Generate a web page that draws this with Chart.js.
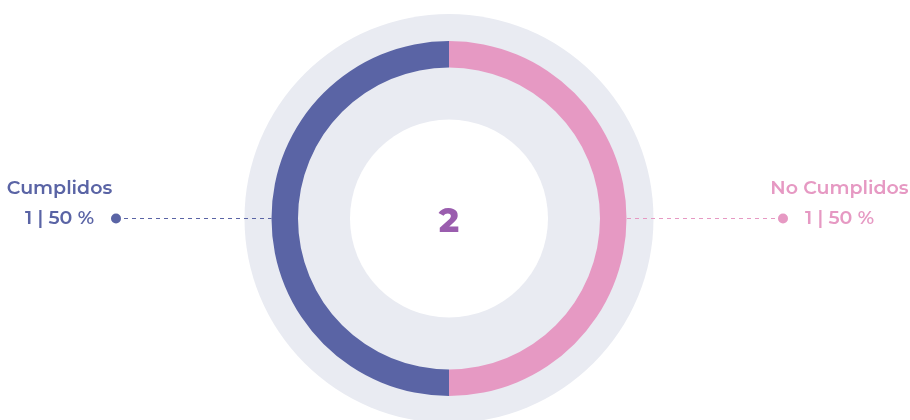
<!DOCTYPE html>
<html>
<head>
<meta charset="utf-8">
<script src="https://cdn.jsdelivr.net/npm/chart.js@4"></script>
<style>
html,body{margin:0;padding:0;background:#fff;}
#wrap{width:910px;height:420px;position:relative;}
</style>
</head>
<body>
<div id="wrap"><canvas id="c" width="910" height="420"></canvas></div>
<script>
const categories = ['Cumplidos', 'No Cumplidos'];
const values = [1, 1];
const sliceColors = ['#5A64A5', '#E699C3'];
const trackColor = '#E9EBF2';
const centerColor = '#9A5DAE';
const FONT = '"Montserrat","Open Sans","Noto Sans",sans-serif';

const total = values.reduce((a, b) => a + b, 0);

const decor = {
  id: 'decor',
  beforeDatasetsDraw(chart) {
    const meta = chart.getDatasetMeta(0);
    const arc = meta.data[0];
    const ctx = chart.ctx;
    const cx = arc.x, cy = arc.y;
    ctx.save();
    ctx.fillStyle = trackColor;
    ctx.beginPath();
    ctx.arc(cx, cy, arc.outerRadius + 27, 0, Math.PI * 2);
    ctx.fill();
    ctx.fillStyle = '#ffffff';
    ctx.beginPath();
    ctx.arc(cx, cy, arc.innerRadius - 52, 0, Math.PI * 2);
    ctx.fill();
    ctx.restore();
  },
  afterDatasetsDraw(chart) {
    const meta = chart.getDatasetMeta(0);
    const ctx = chart.ctx;
    const a0 = meta.data[0];
    const cx = a0.x, cy = a0.y;
    ctx.save();
    ctx.fillStyle = centerColor;
    ctx.font = '800 34px ' + FONT;
    ctx.textAlign = 'center';
    ctx.textBaseline = 'middle';
    ctx.fillText(String(total), cx, cy + 3);

    meta.data.forEach((arc, i) => {
      const mid = (arc.startAngle + arc.endAngle) / 2;
      const left = Math.cos(mid) < 0;
      const ex = cx + Math.cos(mid) * arc.outerRadius;
      const ey = cy + Math.sin(mid) * arc.outerRadius;
      const dotX = left ? 116 : 783;
      const textX = left ? 59.5 : 839.5;
      const col = sliceColors[i];
      ctx.strokeStyle = col;
      ctx.lineWidth = 1;
      ctx.setLineDash([4, 4]);
      ctx.beginPath();
      ctx.moveTo(dotX, ey);
      ctx.lineTo(ex, ey);
      ctx.stroke();
      ctx.setLineDash([]);
      ctx.fillStyle = col;
      ctx.beginPath();
      ctx.arc(dotX, ey, 5, 0, Math.PI * 2);
      ctx.fill();
      ctx.textAlign = 'center';
      ctx.textBaseline = 'middle';
      ctx.font = '600 19px ' + FONT;
      ctx.fillText(categories[i], textX, ey - 30);
      const pct = Math.round(values[i] / total * 100);
      ctx.fillText(values[i] + ' | ' + pct + ' %', textX, ey);
    });
    ctx.restore();
  }
};

new Chart(document.getElementById('c'), {
  type: 'doughnut',
  data: {
    labels: categories,
    datasets: [{
      data: values,
      backgroundColor: sliceColors,
      borderWidth: 0,
      hoverOffset: 0
    }]
  },
  options: {
    responsive: false,
    animation: false,
    rotation: 180,
    radius: 177.5,
    cutout: '85.07%',
    layout: { padding: { top: 17, right: 12, left: 0, bottom: 0 } },
    plugins: { legend: { display: false }, tooltip: { enabled: false } }
  },
  plugins: [decor]
});
</script>
</body>
</html>
